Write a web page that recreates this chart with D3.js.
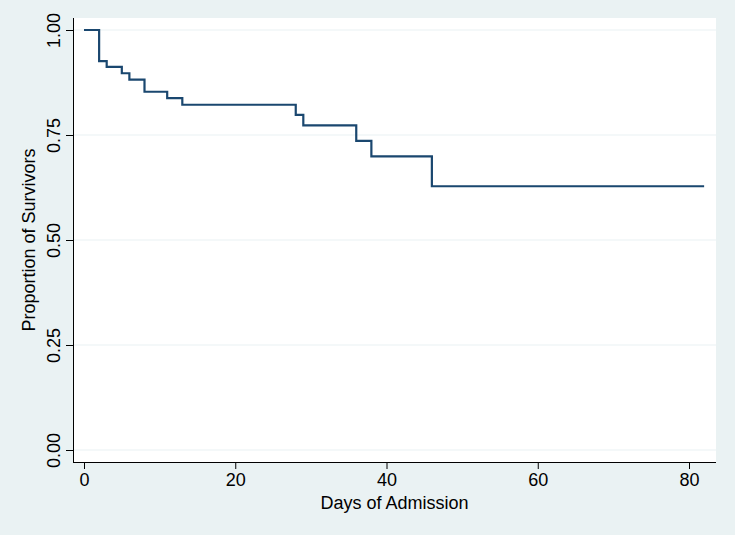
<!DOCTYPE html>
<html>
<head>
<meta charset="utf-8">
<script src="https://cdn.jsdelivr.net/npm/d3@7"></script>
<style>
  html, body { margin: 0; padding: 0; background: #eaf2f3; }
  svg { display: block; }
  text { font-family: "Liberation Sans", Arial, Helvetica, sans-serif; fill: #000; }
</style>
</head>
<body>
<svg id="chart" width="735" height="535"></svg>
<script>
// Data
const days = [0, 2, 3, 5, 6, 8, 11, 13, 28, 29, 36, 38, 46, 82];
const survival = [1, 0.926, 0.912, 0.897, 0.882, 0.853, 0.838, 0.822, 0.798, 0.773, 0.736, 0.699, 0.628, 0.628];
const xTicks = [0, 20, 40, 60, 80];
const yTicks = [0, 0.25, 0.5, 0.75, 1];
const xTitle = "Days of Admission";
const yTitle = "Proportion of Survivors";

const W = 735, H = 535;
const FS = 18;
const svg = d3.select("#chart");
svg.append("rect").attr("width", W).attr("height", H).attr("fill", "#eaf2f3");

const plot = { left: 73, right: 716, top: 18, bottom: 462 };
const x = d3.scaleLinear().domain([0, 80]).range([84, 689]);
const y = d3.scaleLinear().domain([0, 1]).range([450, 30]);

svg.append("rect")
  .attr("x", plot.left).attr("y", plot.top)
  .attr("width", plot.right - plot.left).attr("height", plot.bottom - plot.top)
  .attr("fill", "#ffffff");

// gridlines
svg.append("g").selectAll("line").data(yTicks).join("line")
  .attr("x1", plot.left).attr("x2", plot.right)
  .attr("y1", d => y(d)).attr("y2", d => y(d))
  .attr("stroke", "#eaf2f3").attr("stroke-width", 1.2);

// axes
const yAxis = svg.append("g").attr("transform", `translate(${plot.left},0)`)
  .call(d3.axisLeft(y).tickValues(yTicks).tickFormat(d3.format(".2f")).tickSize(7).tickPadding(5));
yAxis.select(".domain").attr("d", `M0.5,${plot.top}V${plot.bottom}`).attr("stroke", "#000");
yAxis.selectAll(".tick line").attr("stroke", "#000");
yAxis.selectAll(".tick text")
  .attr("font-size", FS)
  .attr("transform", "rotate(-90)")
  .attr("x", 0).attr("y", -13)
  .attr("dy", 0)
  .attr("text-anchor", "middle");

const xAxis = svg.append("g").attr("transform", `translate(0,${plot.bottom})`)
  .call(d3.axisBottom(x).tickValues(xTicks).tickFormat(d3.format("d")).tickSize(7).tickPadding(4));
xAxis.select(".domain").attr("d", `M${plot.left},0.5H${plot.right}`).attr("stroke", "#000");
xAxis.selectAll(".tick line").attr("stroke", "#000");
xAxis.selectAll(".tick text").attr("font-size", FS);

// titles
svg.append("text").attr("x", (plot.left + plot.right) / 2).attr("y", 509)
  .attr("text-anchor", "middle").attr("font-size", FS).text(xTitle);
svg.append("text")
  .attr("transform", `translate(35,${(plot.top + plot.bottom) / 2}) rotate(-90)`)
  .attr("text-anchor", "middle").attr("font-size", FS).text(yTitle);

// survival curve
const pts = days.map((d, i) => [d, survival[i]]);
svg.append("path")
  .datum(pts)
  .attr("fill", "none")
  .attr("stroke", "#1a476f")
  .attr("stroke-width", 2.2)
  .attr("stroke-linejoin", "miter")
  .attr("d", d3.line().x(d => x(d[0])).y(d => y(d[1])).curve(d3.curveStepAfter));
</script>
</body>
</html>
